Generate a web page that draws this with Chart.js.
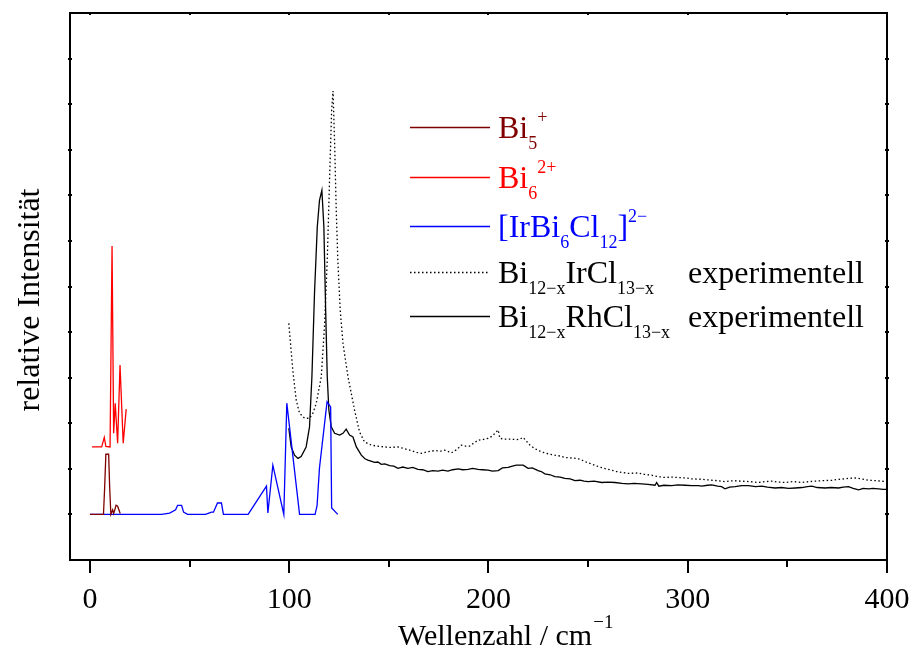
<!DOCTYPE html>
<html>
<head>
<meta charset="utf-8">
<title>Raman-Spektren</title>
<script src="https://cdn.jsdelivr.net/npm/chart.js@4/dist/chart.umd.min.js"></script>
<style>
  html, body { margin: 0; padding: 0; background: #fff; }
  canvas { display: block; }
</style>
</head>
<body>
<canvas id="c" width="912" height="653"></canvas>
<script>
// Wavenumber axis ticks (cm^-1)
const wavenumberTicks = [0, 100, 200, 300, 400];

// Calculated spectrum: Bi5+ (offset baseline 1)
const bi5X = [0, 6.8, 7.4, 8.0, 9.4, 9.9, 10.5, 11.4, 11.9, 12.6, 13.1, 13.9, 15.2];
const bi5Y = [1, 1, 1.6, 2.32, 2.32, 1.6, 1.0, 1.10, 1.02, 1.12, 1.2, 1.18, 1.02];

// Calculated spectrum: Bi6 2+ (offset baseline ~2.48)
const bi6X = [1.0, 5.9, 7.2, 8.0, 10.1, 11.1, 11.9, 12.7, 13.9, 15.1, 16.7, 18.2];
const bi6Y = [2.48, 2.48, 2.69, 2.49, 2.48, 6.89, 2.78, 3.44, 2.56, 4.28, 2.56, 3.31];

// Calculated spectrum: [IrBi6Cl12]2-
const irClusterX = [0, 36, 40, 43, 44, 46, 47, 49, 58, 61, 62, 64, 66, 67, 79.4, 88.6, 89.3, 91.8, 97.3, 98.8, 105.2, 113, 114, 115.2, 119, 120.8, 121.3, 124.4];
const irClusterY = [1, 1, 1.03, 1.1, 1.2, 1.2, 1.05, 1.0, 1.0, 1.05, 1.05, 1.25, 1.25, 1.0, 1.0, 1.62, 1.03, 2.08, 1.0, 3.44, 1.0, 1.0, 1.2, 2.02, 3.47, 3.36, 1.14, 1.0];

// Measured spectrum: Bi12-xIrCl13-x
const irExpX = [99.8, 101.8, 103.5, 105.2, 107.7, 110.2, 111.9, 113.6, 116.1, 117.7, 119.1, 120.3, 121.3, 122, 122.8, 123.6, 124.4, 125.6, 127, 129.5, 132.8, 135.3, 137.8, 141.2, 144, 147.9, 151, 154.6, 158, 161.3, 164, 166.3, 169, 173, 176, 178, 181.4, 184, 186.4, 188.5, 190.6, 192.5, 194.8, 197, 199.8, 202, 203.2, 204.9, 205.7, 208, 211.6, 214, 215.7, 217.4, 220.8, 223, 226.6, 230, 233.3, 236, 238.3, 241, 244.2, 246.5, 248.4, 252, 255.1, 258, 261.8, 264.3, 267, 270.2, 275.2, 278, 281.9, 285, 288.6, 292, 295.3, 299, 302, 307, 312, 315, 318.7, 323, 327, 331, 335.5, 339, 342, 345, 348.9, 353, 357.3, 361, 364, 368, 372.4, 376, 380.7, 384, 387, 390.8, 395, 399.2, 400];
const irExpY = [5.19, 4.17, 3.51, 3.22, 3.11, 3.11, 3.22, 3.44, 4.02, 5.12, 6.58, 8.41, 9.87, 10.29, 9.14, 7.68, 6.58, 5.48, 4.75, 4.02, 3.29, 2.81, 2.59, 2.52, 2.50, 2.48, 2.47, 2.48, 2.44, 2.40, 2.36, 2.34, 2.37, 2.40, 2.39, 2.41, 2.35, 2.42, 2.52, 2.50, 2.50, 2.56, 2.63, 2.64, 2.67, 2.72, 2.78, 2.85, 2.67, 2.65, 2.65, 2.64, 2.65, 2.69, 2.52, 2.45, 2.37, 2.33, 2.30, 2.28, 2.25, 2.24, 2.23, 2.20, 2.16, 2.10, 2.05, 2.01, 1.97, 1.94, 1.92, 1.90, 1.91, 1.88, 1.86, 1.83, 1.81, 1.82, 1.81, 1.80, 1.78, 1.77, 1.75, 1.74, 1.72, 1.74, 1.73, 1.72, 1.70, 1.72, 1.73, 1.71, 1.70, 1.72, 1.70, 1.72, 1.73, 1.74, 1.75, 1.77, 1.79, 1.80, 1.78, 1.75, 1.74, 1.72, 1.72];

// Measured spectrum: Bi12-xRhCl13-x
const rhExpX = [99.8, 101, 102.7, 104.4, 106, 108.5, 110.2, 111.4, 112.7, 114.1, 115.2, 116.4, 117.4, 118.3, 119.1, 119.9, 121.1, 122.8, 125.3, 127, 128.6, 130.3, 132, 133.7, 136.2, 138, 139.5, 141, 142.9, 144.5, 146.2, 148, 150.4, 152.5, 154.6, 157, 159.6, 162, 164.6, 167, 169.6, 172, 174.7, 177, 179.7, 182, 184.8, 187, 189.8, 192, 194.8, 197, 199.8, 202, 204.9, 207, 209.9, 212, 214, 215.7, 217.4, 219.9, 222, 224.9, 226.5, 228.3, 231, 233.3, 236, 238.3, 241, 243.4, 246, 248, 250, 253, 256.8, 260, 263.5, 267, 270.2, 273, 276.9, 280, 283.6, 284.4, 285.5, 288, 292, 295, 298.6, 302, 305.4, 307, 310, 312, 315, 317, 318.7, 321, 323.8, 327, 330.5, 334, 337.2, 340, 343.9, 347, 350.6, 354, 357.3, 360, 362.3, 365, 369, 372, 375.7, 378, 380.7, 383, 385.8, 388, 390.8, 393, 395.8, 398, 400];
const rhExpY = [2.89, 2.48, 2.30, 2.23, 2.27, 2.48, 2.92, 4.02, 5.85, 7.31, 7.89, 8.11, 7.31, 5.48, 4.02, 3.29, 2.92, 2.78, 2.74, 2.78, 2.87, 2.74, 2.70, 2.48, 2.30, 2.22, 2.19, 2.17, 2.14, 2.15, 2.10, 2.11, 2.07, 2.06, 2.01, 2.04, 2.01, 2.03, 1.99, 1.98, 1.94, 1.96, 1.95, 1.97, 1.95, 1.98, 2.00, 1.98, 1.99, 2.01, 1.99, 1.98, 1.97, 1.95, 1.96, 2.02, 2.03, 2.06, 2.08, 2.08, 2.08, 2.01, 2.02, 1.96, 1.94, 1.89, 1.87, 1.83, 1.82, 1.79, 1.78, 1.74, 1.75, 1.73, 1.72, 1.73, 1.70, 1.71, 1.70, 1.68, 1.67, 1.68, 1.67, 1.66, 1.64, 1.70, 1.62, 1.64, 1.63, 1.65, 1.64, 1.63, 1.63, 1.62, 1.64, 1.65, 1.62, 1.61, 1.56, 1.60, 1.61, 1.63, 1.63, 1.61, 1.62, 1.60, 1.58, 1.59, 1.57, 1.58, 1.59, 1.61, 1.62, 1.59, 1.58, 1.59, 1.58, 1.60, 1.61, 1.57, 1.54, 1.57, 1.56, 1.57, 1.56, 1.55, 1.55];

const toPoints = (xs, ys) => xs.map((x, i) => ({ x: x, y: ys[i] }));

const SERIF = '"Liberation Serif", "Times New Roman", serif';

// Draws a label made of normal, subscript and superscript pieces
function drawRich(ctx, x, baseline, parts, color) {
  ctx.save();
  ctx.fillStyle = color;
  ctx.textBaseline = 'alphabetic';
  ctx.textAlign = 'left';
  let cx = x;
  for (const p of parts) {
    let dy = 0;
    if (p.sub) { ctx.font = '18px ' + SERIF; dy = 11; }
    else if (p.sup) { ctx.font = '18px ' + SERIF; dy = -15; }
    else { ctx.font = '32px ' + SERIF; }
    ctx.fillText(p.t, cx, baseline + dy);
    cx += ctx.measureText(p.t).width;
  }
  ctx.restore();
  return cx;
}

const legendRows = [
  { color: '#800000', dash: [], parts: [{ t: 'Bi' }, { t: '5', sub: true }, { t: '+', sup: true }] },
  { color: '#ff0000', dash: [], parts: [{ t: 'Bi' }, { t: '6', sub: true }, { t: '2+', sup: true }] },
  { color: '#0000ff', dash: [], parts: [{ t: '[IrBi' }, { t: '6', sub: true }, { t: 'Cl' }, { t: '12', sub: true }, { t: ']' }, { t: '2\u2212', sup: true }] },
  { color: '#000000', dash: [1.5, 2.5], parts: [{ t: 'Bi' }, { t: '12\u2212x', sub: true }, { t: 'IrCl' }, { t: '13\u2212x', sub: true }], tail: 'experimentell' },
  { color: '#000000', dash: [], parts: [{ t: 'Bi' }, { t: '12\u2212x', sub: true }, { t: 'RhCl' }, { t: '13\u2212x', sub: true }], tail: 'experimentell' }
];
const legendBaselines = [138, 188, 237, 283, 327];

const framePlugin = {
  id: 'frame',
  afterDraw(chart) {
    const ctx = chart.ctx;
    const a = chart.chartArea;
    const xs = chart.scales.x;
    const ys = chart.scales.y;
    ctx.save();
    ctx.strokeStyle = '#000';
    ctx.lineWidth = 2;
    ctx.strokeRect(a.left, a.top, a.right - a.left, a.bottom - a.top);

    // bottom and top ticks
    for (let v = 0; v <= 400; v += 50) {
      const px = Math.round(xs.getPixelForValue(v));
      const major = v % 100 === 0;
      ctx.beginPath();
      ctx.moveTo(px, a.bottom);
      ctx.lineTo(px, a.bottom + (major ? 13 : 7));
      ctx.stroke();
      ctx.beginPath();
      ctx.moveTo(px, a.top - 1);
      ctx.lineTo(px, a.top + 2);
      ctx.stroke();
    }
    // left and right ticks
    for (let v = 1; v < 12; v++) {
      const py = Math.round(ys.getPixelForValue(v));
      ctx.beginPath();
      ctx.moveTo(a.left - 2, py);
      ctx.lineTo(a.left + 2, py);
      ctx.stroke();
      ctx.beginPath();
      ctx.moveTo(a.right - 2, py);
      ctx.lineTo(a.right + 2, py);
      ctx.stroke();
    }

    // axis titles
    ctx.fillStyle = '#000';
    ctx.textBaseline = 'alphabetic';
    ctx.font = '30px ' + SERIF;
    ctx.textAlign = 'left';
    const t = 'Wellenzahl / cm';
    ctx.fillText(t, 398, 645);
    const w = ctx.measureText(t).width;
    ctx.font = '19px ' + SERIF;
    ctx.fillText('\u22121', 398 + w + 1, 628);

    ctx.save();
    ctx.translate(39, 300);
    ctx.rotate(-Math.PI / 2);
    ctx.font = '32px ' + SERIF;
    ctx.textAlign = 'center';
    ctx.fillText('relative Intensität', 0, 0);
    ctx.restore();

    // legend
    legendRows.forEach((row, i) => {
      const base = legendBaselines[i];
      const ly = base - 10.5;
      ctx.save();
      ctx.strokeStyle = row.color;
      ctx.lineWidth = 1.3;
      ctx.setLineDash(row.dash);
      ctx.beginPath();
      ctx.moveTo(410, ly);
      ctx.lineTo(490, ly);
      ctx.stroke();
      ctx.restore();
      drawRich(ctx, 498, base, row.parts, row.color);
      if (row.tail) {
        ctx.font = '32px ' + SERIF;
        ctx.fillStyle = row.color;
        ctx.fillText(row.tail, 688, base);
      }
    });
    ctx.restore();
  }
};

const lineStyle = { pointRadius: 0, borderWidth: 1.3, tension: 0, fill: false };

new Chart(document.getElementById('c'), {
  type: 'line',
  data: {
    datasets: [
      Object.assign({ label: 'Bi5+', data: toPoints(bi5X, bi5Y), borderColor: '#800000' }, lineStyle),
      Object.assign({ label: 'Bi6 2+', data: toPoints(bi6X, bi6Y), borderColor: '#ff0000' }, lineStyle),
      Object.assign({ label: '[IrBi6Cl12]2-', data: toPoints(irClusterX, irClusterY), borderColor: '#0000ff' }, lineStyle),
      Object.assign({ label: 'Bi12-xIrCl13-x experimentell', data: toPoints(irExpX, irExpY), borderColor: '#000000', borderDash: [1.5, 2.5] }, lineStyle),
      Object.assign({ label: 'Bi12-xRhCl13-x experimentell', data: toPoints(rhExpX, rhExpY), borderColor: '#000000' }, lineStyle)
    ]
  },
  options: {
    responsive: false,
    devicePixelRatio: 1,
    animation: false,
    layout: { padding: { top: 13, right: 25, left: 0, bottom: 0 } },
    plugins: { legend: { display: false }, tooltip: { enabled: false } },
    scales: {
      x: {
        type: 'linear',
        min: -10,
        max: 400,
        grid: { display: false },
        border: { display: false },
        afterBuildTicks: (s) => { s.ticks = wavenumberTicks.map(v => ({ value: v })); },
        afterFit: (s) => { s.height = 93; s.paddingRight = 0; s.paddingLeft = 0; },
        ticks: {
          color: '#000',
          padding: 14,
          maxRotation: 0,
          font: { family: SERIF, size: 30 }
        }
      },
      y: {
        type: 'linear',
        min: 0,
        max: 12,
        grid: { display: false },
        border: { display: false },
        ticks: { display: false },
        afterFit: (s) => { s.width = 70; s.paddingTop = 0; s.paddingBottom = 0; }
      }
    }
  },
  plugins: [framePlugin]
});
</script>
</body>
</html>
